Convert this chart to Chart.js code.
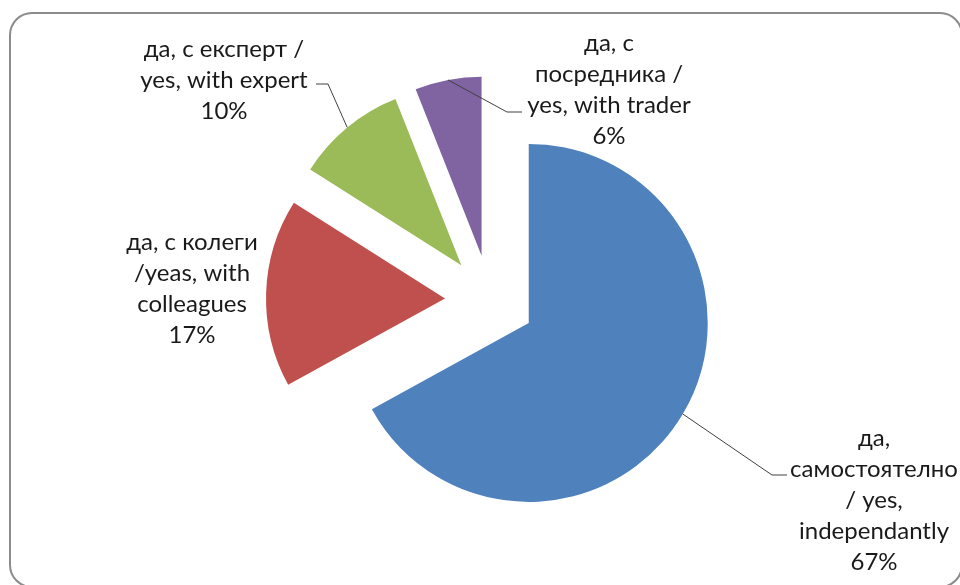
<!DOCTYPE html>
<html>
<head>
<meta charset="utf-8">
<script src="https://cdn.jsdelivr.net/npm/chart.js@4"></script>
<style>
  body { margin: 0; background: #fff; }
  #wrap { position: relative; width: 960px; height: 585px; }
</style>
</head>
<body>
<div id="wrap"><canvas id="myChart"></canvas></div>
<script>
// data
const categories = [
   'да, самостоятелно / yes, independantly',
   'да, с колеги /yeas, with colleagues',
   'да, с експерт / yes, with expert',
   'да, с посредника / yes, with trader'
];
const values = [67, 17, 10, 6];
const percentLabels = ['67%', '17%', '10%', '6%'];
const labelLines = [
   ['да,', 'самостоятелно', '/ yes,', 'independantly'],
   ['да, с колеги', '/yeas, with', 'colleagues'],
   ['да, с експерт /', 'yes, with expert'],
   ['да, с', 'посредника /', 'yes, with trader']
];
const colors = ['#4F81BD', '#C0504D', '#9BBB59', '#8064A2'];

// layout of the data labels (text centre x, first line y, optional leader elbow / end)
const labelLayout = [
   { x: 874, y: 438, elbow: [772, 475], end: [787, 475] },
   { x: 192, y: 242 },
   { x: 224, y: 49, elbow: [328, 84], end: [316, 84] },
   { x: 609, y: 43, elbow: [507, 112], end: [522, 112] }
];
const explode = 45;
const lineGap = 31;

const explodePlugin = {
   id: 'explode',
   beforeDraw(chart) {
       const ctx = chart.ctx;
       ctx.save();
       ctx.strokeStyle = '#8c8c8c';
       ctx.lineWidth = 2;
       ctx.beginPath();
       ctx.roundRect(10, 13, 952, 574, 22);
       ctx.stroke();
       ctx.restore();
   },
   beforeDatasetDraw(chart, args) {
       const ctx = chart.ctx;
       args.meta.data.forEach(arc => {
           const mid = (arc.startAngle + arc.endAngle) / 2;
           ctx.save();
           ctx.translate(Math.cos(mid) * explode, Math.sin(mid) * explode);
           arc.draw(ctx);
           ctx.restore();
       });
       return false;
   },
   afterDatasetsDraw(chart) {
       const ctx = chart.ctx;
       const arcs = chart.getDatasetMeta(0).data;
       ctx.save();
       ctx.fillStyle = '#1a1a1a';
       ctx.font = '24px Lato, "Open Sans", sans-serif';
       ctx.textAlign = 'center';
       ctx.textBaseline = 'middle';
       arcs.forEach((arc, i) => {
           const lay = labelLayout[i];
           const lines = labelLines[i].concat([percentLabels[i]]);
           lines.forEach((t, k) => ctx.fillText(t, lay.x, lay.y + k * lineGap));
           if (lay.elbow) {
               const mid = (arc.startAngle + arc.endAngle) / 2;
               const r = arc.outerRadius + explode;
               ctx.strokeStyle = '#404040';
               ctx.lineWidth = 1;
               ctx.beginPath();
               ctx.moveTo(arc.x + Math.cos(mid) * r, arc.y + Math.sin(mid) * r);
               ctx.lineTo(lay.elbow[0], lay.elbow[1]);
               ctx.lineTo(lay.end[0], lay.end[1]);
               ctx.stroke();
           }
       });
       ctx.restore();
   }
};

const ctx = document.getElementById('myChart').getContext('2d');
const myChart = new Chart(ctx, {
   type: 'pie',
   data: {
       labels: categories,
       datasets: [{
           data: values,
           backgroundColor: colors,
           borderWidth: 0
       }]
   },
   options: {
       responsive: true,
       maintainAspectRatio: false,
       animation: false,
       radius: 179,
       layout: { padding: { left: 20, top: 15, right: 0, bottom: 0 } },
       plugins: {
           legend: { display: false },
           tooltip: { enabled: false }
       }
   },
   plugins: [explodePlugin]
});
</script>
</body>
</html>
